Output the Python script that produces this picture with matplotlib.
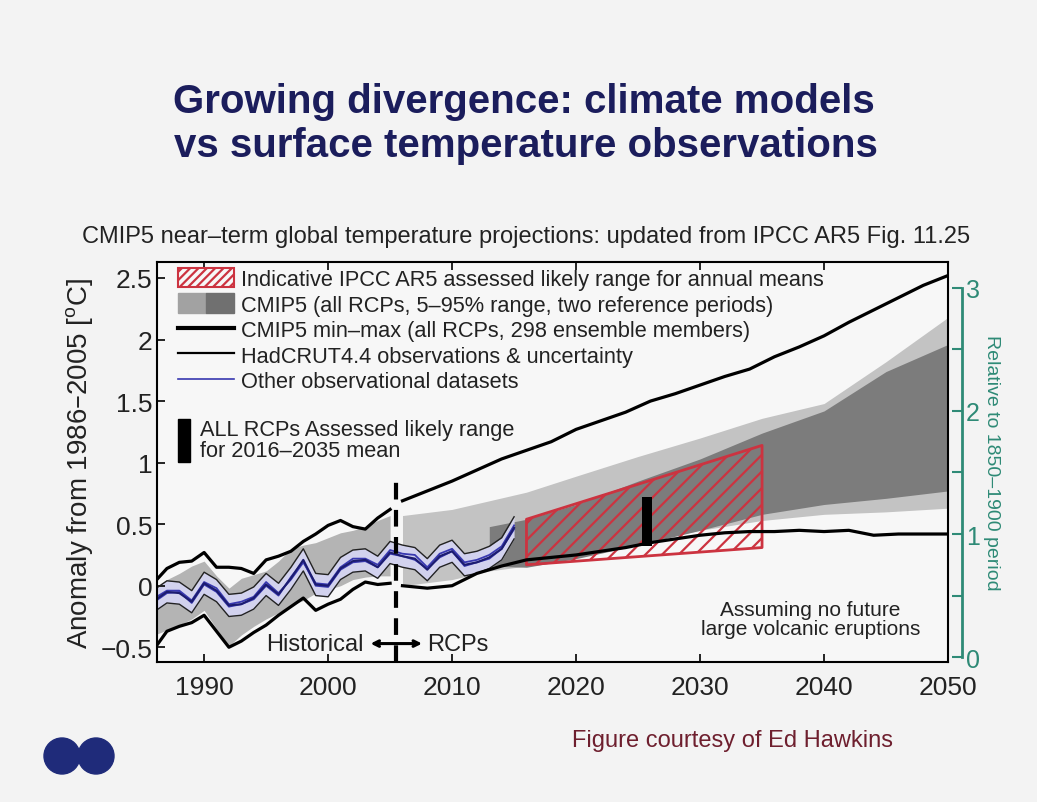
import numpy as np
import matplotlib.pyplot as plt
from matplotlib.patches import Patch, Rectangle, Ellipse
from matplotlib.lines import Line2D
from matplotlib.legend_handler import HandlerTuple

# CMIP5 min-max envelope, historical part (yearly)
hist_years = list(range(1986, 2006))
hist_max = [0.03, 0.14, 0.19, 0.20, 0.27, 0.15, 0.15, 0.14, 0.10, 0.21,
            0.24, 0.28, 0.36, 0.42, 0.49, 0.53, 0.48, 0.46, 0.55, 0.62]
hist_min = [-0.51, -0.37, -0.33, -0.30, -0.24, -0.37, -0.50, -0.45, -0.38, -0.32,
            -0.24, -0.17, -0.10, -0.20, -0.15, -0.11, -0.03, 0.03, 0.01, 0.02]
# CMIP5 5-95% range, historical
hist_p95 = [-0.02, 0.05, 0.10, 0.16, 0.20, 0.08, -0.02, 0.06, 0.09, 0.12,
            0.20, 0.30, 0.33, 0.35, 0.39, 0.43, 0.45, 0.48, 0.53, 0.57]
hist_p5 = [-0.40, -0.36, -0.32, -0.27, -0.20, -0.35, -0.49, -0.40, -0.33, -0.27,
           -0.22, -0.16, -0.12, -0.06, -0.03, 0.00, 0.05, 0.07, 0.08, 0.08]

# CMIP5 min-max envelope, RCP part
rcp_years = list(range(2006, 2051, 2))
rcp_max = [0.69, 0.77, 0.85, 0.94, 1.03, 1.10, 1.17, 1.27, 1.34, 1.41, 1.50, 1.56,
           1.63, 1.70, 1.76, 1.86, 1.94, 2.03, 2.14, 2.24, 2.34, 2.44, 2.52]
rcp_min = [0.00, -0.02, 0.00, 0.10, 0.16, 0.21, 0.23, 0.25, 0.28, 0.31, 0.35, 0.38,
           0.41, 0.43, 0.44, 0.44, 0.45, 0.44, 0.45, 0.41, 0.42, 0.42, 0.42]

# 5-95% ranges for the two reference periods
band_years = [2006, 2010, 2013, 2016, 2020, 2025, 2030, 2035, 2040, 2045, 2050]
light_top = [0.57, 0.62, 0.69, 0.76, 0.89, 1.05, 1.20, 1.36, 1.48, 1.82, 2.18]
light_bot = [0.00, 0.05, 0.12, 0.16, 0.24, 0.35, 0.45, 0.53, 0.58, 0.60, 0.63]
dark_years = [2013, 2016, 2020, 2025, 2030, 2035, 2040, 2045, 2050]
dark_top = [0.48, 0.54, 0.66, 0.85, 1.03, 1.24, 1.42, 1.74, 1.96]
dark_bot = [0.16, 0.15, 0.22, 0.33, 0.45, 0.58, 0.66, 0.71, 0.77]

# observations
obs_years = list(range(1986, 2016))
hadcrut = [-0.12, -0.05, -0.06, -0.13, 0.02, -0.04, -0.16, -0.15, -0.10, 0.01,
           -0.07, 0.06, 0.21, 0.01, 0.00, 0.14, 0.20, 0.21, 0.15, 0.27,
           0.24, 0.22, 0.13, 0.24, 0.28, 0.17, 0.19, 0.23, 0.30, 0.47]
gistemp = [-0.10, -0.04, -0.04, -0.12, 0.03, -0.02, -0.15, -0.13, -0.09, 0.03,
           -0.06, 0.05, 0.19, 0.02, 0.01, 0.15, 0.22, 0.22, 0.17, 0.29,
           0.26, 0.25, 0.15, 0.26, 0.30, 0.19, 0.21, 0.25, 0.32, 0.49]
noaa = [-0.13, -0.06, -0.05, -0.14, 0.01, -0.05, -0.17, -0.15, -0.11, 0.00,
        -0.08, 0.07, 0.20, 0.00, -0.01, 0.13, 0.19, 0.20, 0.15, 0.26,
        0.24, 0.21, 0.14, 0.23, 0.28, 0.16, 0.19, 0.22, 0.30, 0.46]
hadcrut_unc = 0.09

# IPCC AR5 indicative likely range and assessed 2016-2035 mean range
likely_years = [2016, 2035]
likely_lo = [0.17, 0.31]
likely_hi = [0.54, 1.14]
assessed_year = 2025.7
assessed_lo, assessed_hi = 0.32, 0.72

xticks = [1990, 2000, 2010, 2020, 2030, 2040, 2050]
yticks = [-0.5, 0, 0.5, 1, 1.5, 2, 2.5]
ytick_labels = ['\u22120.5', '0', '0.5', '1', '1.5', '2', '2.5']
rticks = [0, 0.5, 1, 1.5, 2, 2.5, 3]
rtick_labels = ['0', '', '1', '', '2', '', '3']
offset_1850 = 0.58

plt.rcParams['font.family'] = ['Liberation Sans', 'DejaVu Sans']
plt.rcParams['mathtext.default'] = 'regular'
plt.rcParams['hatch.linewidth'] = 1.6

teal = '#2e8a76'
red = '#cc3340'
txt = '#222222'

fig = plt.figure(figsize=(10.37, 8.03), dpi=100, facecolor='#f3f3f3')
ax = fig.add_axes([0.1514, 0.1743, 0.7628, 0.4982])
ax.set_facecolor('#f7f7f7')
ylim = (-0.62, 2.63)

ax.fill_between(band_years, light_bot, light_top, color='#c3c3c3', lw=0)
ax.fill_between(dark_years, dark_bot, dark_top, color='#7c7c7c', lw=0)
ax.fill_between(hist_years, hist_p5, hist_p95, color='#b4b4b4', lw=0)
ax.fill_between(likely_years, likely_lo, likely_hi, facecolor='none',
                edgecolor=red, hatch='//', lw=2)

had = np.array(hadcrut)
ax.fill_between(obs_years, had - hadcrut_unc, had + hadcrut_unc, color='#d2d2ee', lw=0)
ax.plot(obs_years, had - hadcrut_unc, color='#222222', lw=1)
ax.plot(obs_years, had + hadcrut_unc, color='#222222', lw=1)
ax.plot(obs_years, gistemp, color='#3838b0', lw=1.3)
ax.plot(obs_years, noaa, color='#3838b0', lw=1.3)
ax.plot(obs_years, hadcrut, color='#1c1c70', lw=1.5)

ax.plot(hist_years, hist_max, color='k', lw=2.3)
ax.plot(hist_years, hist_min, color='k', lw=2.3)
ax.plot(rcp_years, rcp_max, color='k', lw=2.3)
ax.plot(rcp_years, rcp_min, color='k', lw=2.3)

ax.bar(assessed_year, assessed_hi - assessed_lo, bottom=assessed_lo, width=0.8, color='k')

ax.axvline(2005.5, ymin=0, ymax=(0.85 - ylim[0]) / (ylim[1] - ylim[0]),
           color='k', lw=3, dashes=(4, 2.5))
ax.annotate('', xy=(2003.2, -0.47), xytext=(2007.8, -0.47),
            arrowprops=dict(arrowstyle='<->', color='k', lw=2.2))
ax.text(2002.9, -0.47, 'Historical', ha='right', va='center', fontsize=17, color=txt)
ax.text(2008.0, -0.47, 'RCPs', ha='left', va='center', fontsize=17, color=txt)
ax.text(2038.9, -0.27, 'Assuming no future\nlarge volcanic eruptions',
        ha='center', va='center', fontsize=15, linespacing=1.0, color=txt)

ax.set_xlim(1986.2, 2050)
ax.set_ylim(*ylim)
ax.set_xticks(xticks)
ax.set_yticks(yticks)
ax.set_yticklabels(ytick_labels)
ax.tick_params(direction='in', top=True, length=6, width=1.2, labelsize=19,
               labelcolor=txt)
ax.tick_params(axis='x', pad=9)
for s in ax.spines.values():
    s.set_linewidth(1.5)
ax.set_ylabel('Anomaly from 1986\u20132005 [$^{o}$C]', fontsize=20, labelpad=4, color=txt)

# right-hand axis relative to 1850-1900
ax2 = ax.twinx()
ax2.set_ylim(ylim[0] + offset_1850, ylim[1] + offset_1850)
for side in ['left', 'top', 'bottom']:
    ax2.spines[side].set_visible(False)
ax2.spines['right'].set_position(('outward', 10))
ax2.spines['right'].set_bounds(0, 3)
ax2.spines['right'].set_color(teal)
ax2.spines['right'].set_linewidth(2)
ax2.set_yticks(rticks)
ax2.set_yticklabels(rtick_labels)
ax2.tick_params(axis='y', direction='in', colors=teal, length=7, width=1.5,
                labelsize=18, pad=3)
ax2.set_ylabel('Relative to 1850\u20131900 period', rotation=-90, color=teal,
               fontsize=14, labelpad=14)

# legend
handles = [
    Patch(facecolor='#f7f7f7', edgecolor=red, hatch='////', lw=1.5),
    (Patch(color='#a2a2a2'), Patch(color='#707070')),
    Line2D([], [], color='k', lw=3),
    Line2D([], [], color='k', lw=1.6),
    Line2D([], [], color='#3838b0', lw=1.2),
]
labels = [
    'Indicative IPCC AR5 assessed likely range for annual means',
    'CMIP5 (all RCPs, 5\u201395% range, two reference periods)',
    'CMIP5 min\u2013max (all RCPs, 298 ensemble members)',
    'HadCRUT4.4 observations & uncertainty',
    'Other observational datasets',
]
leg = ax.legend(handles, labels, loc='upper left', bbox_to_anchor=(0.026, 0.985),
                frameon=False, fontsize=15.7, handlelength=2.6, handleheight=1.0,
                handletextpad=0.3, labelspacing=0.15, borderaxespad=0, borderpad=0,
                handler_map={tuple: HandlerTuple(ndivide=None, pad=0)})
for t in leg.get_texts():
    t.set_color(txt)
ax.add_patch(Rectangle((0.027, 0.5), 0.015, 0.107, transform=ax.transAxes, color='k'))
ax.text(0.054, 0.554, 'ALL RCPs Assessed likely range\nfor 2016\u20132035 mean',
        transform=ax.transAxes, va='center', fontsize=15.7, linespacing=1.0, color=txt)

# titles and credits
navy = '#1b1d5c'
fig.text(0.505, 1 - 102 / 803, 'Growing divergence: climate models', ha='center',
         va='center', fontsize=29, weight='bold', color=navy)
fig.text(0.507, 1 - 146 / 803, 'vs surface temperature observations', ha='center',
         va='center', fontsize=29, weight='bold', color=navy)
fig.text(0.507, 1 - 237 / 803,
         'CMIP5 near\u2013term global temperature projections: updated from IPCC AR5 Fig. 11.25',
         ha='center', va='center', fontsize=17, color=txt)
fig.text(732 / 1037, 1 - 741 / 803, 'Figure courtesy of Ed Hawkins', ha='center',
         va='center', fontsize=17, color='#6e1f2e')

# little logo
fig.add_artist(Ellipse((62 / 1037, 1 - 757 / 803), 36 / 1037, 36 / 803, color='#1f2b7a'))
fig.add_artist(Ellipse((96 / 1037, 1 - 757 / 803), 36 / 1037, 36 / 803, color='#1f2b7a'))

fig.savefig('out.png', dpi=100, facecolor=fig.get_facecolor())
